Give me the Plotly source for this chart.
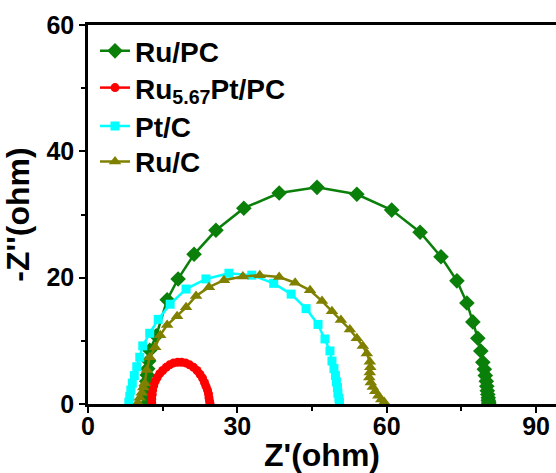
import plotly.graph_objects as go

# Ru/PC
ru_pc_x = [12.0, 11.9, 11.8, 11.8, 11.8, 11.9, 12.0, 12.2, 12.4, 13.7, 15.9, 18.1, 21.3, 25.7, 31.3, 38.4, 46.0,
           54.0, 61.0, 66.7, 70.9, 74.1, 76.1, 77.3, 78.3, 78.9, 79.3, 79.6, 79.8, 80.0, 80.1, 80.2, 80.3, 80.4,
           80.4, 80.5, 80.5]
ru_pc_y = [0.2, 1.0, 1.8, 2.7, 3.6, 4.6, 5.6, 6.8, 8.5, 10.8, 16.5, 19.8, 23.7, 27.5, 31.0, 33.4, 34.3,
           33.2, 30.7, 27.2, 23.3, 19.5, 16.0, 13.0, 10.4, 8.4, 6.6, 5.5, 4.5, 3.6, 2.8, 2.1, 1.5, 1.0,
           0.6, 0.3, 0.1]

# Ru5.67Pt/PC
rupt_x = [12.8, 12.8, 12.9, 13.0, 13.2, 13.5, 13.9, 14.4, 15.0, 15.7, 16.4, 17.2, 18.0, 18.8, 19.6, 20.4,
          21.2, 21.9, 22.5, 23.0, 23.4, 23.7, 24.0, 24.2, 24.3, 24.4, 24.5]
rupt_y = [0.2, 0.8, 1.5, 2.2, 2.9, 3.6, 4.2, 4.8, 5.3, 5.8, 6.2, 6.5, 6.6, 6.6, 6.5, 6.2,
          5.8, 5.3, 4.7, 4.1, 3.4, 2.8, 2.2, 1.6, 1.0, 0.5, 0.1]

# Pt/C
ptc_x = [8.2, 8.4, 8.6, 8.9, 9.3, 9.8, 10.4, 11.0, 12.4, 14.1, 16.5, 19.7, 23.7, 28.3, 32.9, 37.3, 40.8,
         43.8, 46.2, 47.6, 48.6, 49.0, 49.4, 49.7, 49.9, 50.1, 50.2, 50.4, 50.5]
ptc_y = [0.3, 1.2, 2.2, 3.3, 4.5, 5.9, 7.4, 9.2, 11.2, 13.4, 15.8, 18.2, 19.8, 20.7, 20.4, 19.1, 17.4,
         15.1, 12.6, 10.3, 8.4, 6.8, 5.6, 4.5, 3.5, 2.6, 1.7, 0.9, 0.3]

# Ru/C
ruc_x = [10.0, 10.4, 10.8, 11.1, 11.4, 11.8, 12.4, 13.5, 14.5, 15.9, 17.9, 19.7, 21.7, 24.3, 27.3, 31.1, 34.5,
         38.4, 41.6, 44.6, 47.0, 49.0, 50.8, 52.6, 54.0, 55.2, 56.0, 56.6, 56.7, 56.6, 56.5, 56.8, 57.2, 57.7,
         58.3, 58.9, 59.5]
ruc_y = [0.2, 1.0, 1.8, 2.6, 3.3, 5.4, 7.4, 9.0, 10.9, 12.5, 13.9, 15.3, 17.1, 18.5, 19.6, 20.2, 20.4,
         20.1, 19.2, 18.0, 16.3, 14.7, 13.3, 11.8, 10.4, 9.2, 8.0, 6.7, 5.8, 5.0, 4.2, 3.4, 2.7, 2.0,
         1.3, 0.7, 0.3]

x_ticks = [0, 30, 60, 90]
y_ticks = [0, 20, 40, 60]

fig = go.Figure()
fig.add_trace(go.Scatter(x=ru_pc_x, y=ru_pc_y, mode="lines+markers", name="Ru/PC", legend="legend",
                         line=dict(color="#0a7f0a", width=2.5),
                         marker=dict(symbol="diamond", size=12, color="#0a7f0a")))
fig.add_trace(go.Scatter(x=rupt_x, y=rupt_y, mode="lines+markers", name="Ru<sub>5.67</sub>Pt/PC", legend="legend2",
                         line=dict(color="#ff0000", width=2.5),
                         marker=dict(symbol="circle", size=9, color="#ff0000")))
fig.add_trace(go.Scatter(x=ptc_x, y=ptc_y, mode="lines+markers", name="Pt/C", legend="legend3",
                         line=dict(color="#00ffff", width=2.5),
                         marker=dict(symbol="square", size=9, color="#00ffff")))
fig.add_trace(go.Scatter(x=ruc_x, y=ruc_y, mode="lines+markers", name="Ru/C", legend="legend4",
                         line=dict(color="#808000", width=2.5),
                         marker=dict(symbol="triangle-up", size=11, color="#808000")))

font_family = "Liberation Sans, Arial, sans-serif"
axis_common = dict(
    showline=True, linecolor="black", linewidth=2.5,
    ticks="outside", ticklen=6, tickwidth=2, tickcolor="black",
    showgrid=False, zeroline=False,
    tickfont=dict(family=font_family, size=25, color="black", weight="bold"),
    minor=dict(ticks="outside", ticklen=4, tickwidth=2, tickcolor="black"),
)

legend_font = dict(family=font_family, size=28, color="black", weight="bold")


def leg(ypos):
    return dict(x=0.015, y=ypos, xanchor="left", yanchor="middle", font=legend_font,
                bgcolor="rgba(0,0,0,0)", itemwidth=30)


fig.update_layout(
    width=556, height=473,
    margin=dict(l=88, r=0, t=25, b=69),
    plot_bgcolor="white", paper_bgcolor="white",
    showlegend=True,
    legend=leg(0.931),
    legend2=leg(0.834),
    legend3=leg(0.733),
    legend4=leg(0.639),
    xaxis=dict(range=[0, 94], tickvals=x_ticks, mirror=True,
               ticklabelposition="outside", ticklabelstandoff=-8,
               title=dict(text="Z'(ohm)", standoff=0,
                          font=dict(family=font_family, size=32, color="black", weight="bold")),
               **axis_common),
    yaxis=dict(range=[0, 60], tickvals=y_ticks,
               title=dict(text="-Z''(ohm)", standoff=8,
                          font=dict(family=font_family, size=32, color="black", weight="bold")),
               **axis_common),
)
fig.update_xaxes(minor=dict(dtick=15, tick0=0))
fig.update_yaxes(minor=dict(dtick=10, tick0=0))

fig.write_html("out.html")
